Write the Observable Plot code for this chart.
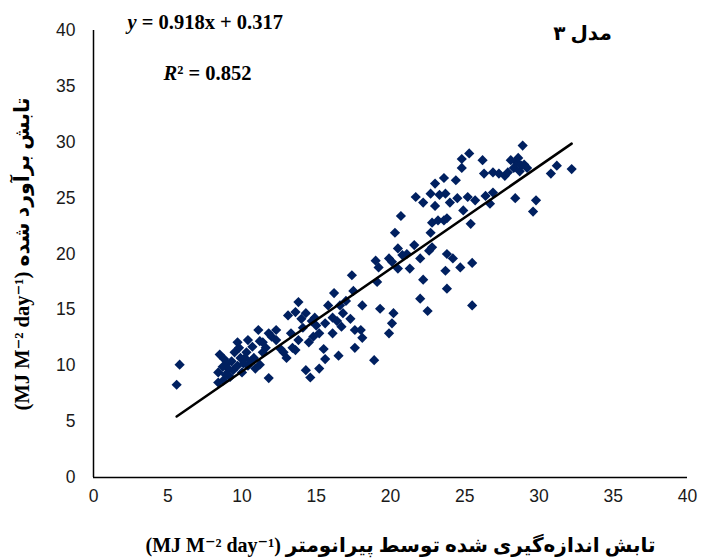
<!DOCTYPE html>
<html><head><meta charset="utf-8">
<script src="https://cdn.jsdelivr.net/npm/d3@7"></script>
<script src="https://cdn.jsdelivr.net/npm/@observablehq/plot@0.6"></script>
<style>body{margin:0;background:#fff}</style>
</head><body><div id="chart"></div>
<script>
// measured radiation (pyranometer), MJ m-2 day-1
const measured = [
  5.6, 5.8, 8.4, 8.4, 8.5, 8.75, 8.8, 9.0, 9.2, 9.4, 9.5, 9.7, 9.7, 9.9, 10.0, 10.2, 10.4, 10.4, 10.6, 10.8,
  10.9, 11.1, 11.2, 11.4, 11.4, 11.6, 11.8, 11.8, 11.2, 9.1, 8.7, 10.1, 9.3, 10.3, 9.8, 8.9, 10.7,
  12.3, 12.3, 12.6, 12.8, 13.0, 13.1, 13.4, 13.6, 13.6, 13.8, 13.8, 14.1, 14.3, 14.3, 14.5, 14.6, 14.7, 14.9,
  15.2, 15.2, 15.5, 15.6, 15.6, 15.8, 16.1, 16.1, 16.2, 16.5, 16.6, 16.8, 17.0, 17.3, 17.4, 17.5, 17.6, 17.6,
  18.0, 18.1, 18.1, 12.0, 14.0, 15.0, 16.4, 13.3, 14.8, 16.7,
  18.9, 19.0, 19.1, 19.2, 19.3, 19.9, 19.9, 20.1, 20.2, 20.3, 20.5, 20.5, 20.7, 20.8, 21.1, 21.3, 21.7, 22.0,
  22.0, 22.2, 22.2, 22.5, 22.6, 22.7, 22.7, 22.8, 22.8, 23.0, 23.0, 23.2, 21.6, 20.1,
  23.6, 23.6, 23.7, 23.7, 23.8, 23.8, 24.2, 24.4, 24.5, 24.7, 24.8, 24.8, 24.9, 25.2, 25.3, 25.4, 25.5, 25.5,
  25.7, 26.2, 26.3, 26.4, 26.7, 26.9, 26.9, 27.3, 27.7, 27.9, 28.3, 28.4, 28.5, 28.7, 28.8, 28.9, 29.0, 29.2,
  29.6, 29.8, 30.8, 31.2, 32.2, 24.0, 23.3, 28.1, 28.6, 23.8
];
// estimated radiation (model 3), MJ m-2 day-1
const estimated = [
  8.3, 10.1, 8.5, 9.4, 11.0, 8.7, 10.6, 10.2, 9.0, 9.6, 11.2, 10.0, 12.1, 10.7, 9.4, 10.7, 10.0, 12.3, 10.4, 10.7,
  9.75, 13.2, 10.1, 12.1, 11.2, 11.6, 8.9, 12.9, 12.2, 9.7, 9.9, 10.2, 10.4, 11.2, 11.6, 9.2, 11.7,
  13.2, 12.3, 11.5, 11.2, 10.7, 14.5, 11.6, 14.8, 11.4, 15.7, 12.3, 13.4, 14.7, 9.6, 12.1, 8.95, 14.0, 14.3,
  12.9, 9.75, 11.5, 10.6, 13.8, 15.4, 14.3, 12.9, 16.5, 10.9, 15.4, 14.7, 15.8, 14.2, 18.1, 16.7, 13.2, 11.6,
  13.2, 15.4, 12.5, 12.6, 14.2, 13.6, 14.0, 12.9, 12.6, 13.5,
  10.5, 19.4, 17.5, 18.8, 15.1, 19.6, 12.9, 13.8, 14.7, 21.9, 20.5, 18.7, 23.4, 19.9, 20.0, 18.7, 25.1, 19.6,
  16.0, 24.6, 17.7, 14.9, 20.3, 21.9, 25.4, 22.8, 20.6, 24.3, 26.3, 23.0, 20.8, 19.3,
  26.8, 23.0, 25.4, 18.5, 16.9, 20.0, 19.6, 26.6, 25.0, 18.8, 28.5, 27.7, 23.9, 25.1, 29.0, 22.7, 19.2, 15.4,
  24.8, 28.4, 27.2, 25.2, 24.5, 25.5, 27.3, 27.2, 27.0, 27.3, 27.7, 25.0, 28.2, 27.4, 27.9, 29.7, 28.0, 27.7,
  23.8, 24.8, 27.2, 27.9, 27.6, 24.6, 25.3, 28.4, 28.6, 23.2
];
const slope = 0.918;
const intercept = 0.317;
const rSquared = 0.852;
const xTicks = [0, 5, 10, 15, 20, 25, 30, 35, 40];
const yTicks = [0, 5, 10, 15, 20, 25, 30, 35, 40];
const modelTitle = "مدل ۳";
const unitText = "(MJ M⁻² day⁻¹)";
const xTitle = unitText + " تابش اندازه‌گیری شده توسط پیرانومتر";
const yTitle = unitText + " تابش برآورد شده";
const eqText = `y = ${slope}x + ${intercept}`;
const r2Text = `R² = ${rSquared}`;

const points = measured.map((x, i) => ({x, y: estimated[i]}));
const [xMin, xMax] = d3.extent(measured);
const fit = [xMin, xMax].map(x => ({x, y: slope * x + intercept}));

const serif = "Liberation Serif, 'Times New Roman', 'DejaVu Sans', serif";

const chart = Plot.plot({
  width: 703, height: 558,
  marginLeft: 93, marginRight: 16, marginTop: 30, marginBottom: 81,
  style: {fontFamily: "Liberation Sans, Arial, sans-serif", background: "#fff", color: "#1a1a1a"},
  x: {domain: [0, 40]},
  y: {domain: [0, 40]},
  marks: [
    Plot.axisX({ticks: xTicks, tickSize: 0, tickPadding: 12, fontSize: 17.5, label: null}),
    Plot.axisY({ticks: yTicks, tickSize: 0, tickPadding: 18, fontSize: 17.5, label: null}),
    Plot.ruleX([0], {stroke: "#000", strokeWidth: 1.5}),
    Plot.ruleY([0], {stroke: "#000", strokeWidth: 1.5}),
    Plot.dot(points, {x: "x", y: "y", symbol: "diamond2", r: 4.6, fill: "#002060", stroke: null}),
    Plot.line(fit, {x: "x", y: "y", stroke: "#000", strokeWidth: 2.5}),
    Plot.text([eqText], {frameAnchor: "top-left", dx: 34, dy: -8, textAnchor: "start", lineAnchor: "middle",
      fontFamily: serif, fontWeight: "bold", fontSize: 20.5, fill: "#000"}),
    Plot.text([r2Text], {frameAnchor: "top-left", dx: 70, dy: 43, textAnchor: "start", lineAnchor: "middle",
      fontFamily: serif, fontWeight: "bold", fontSize: 20.5, fill: "#000"}),
    Plot.text([modelTitle], {frameAnchor: "top-right", dx: -105, dy: 3, textAnchor: "middle", lineAnchor: "middle",
      fontFamily: serif, fontWeight: "bold", fontSize: 20, fill: "#000"}),
    Plot.text([xTitle], {frameAnchor: "bottom", dx: 10, dy: 68, textAnchor: "middle", lineAnchor: "middle",
      fontFamily: serif, fontWeight: "bold", fontSize: 20, fill: "#000"}),
    Plot.text([yTitle], {frameAnchor: "left", dx: -71, dy: 0, rotate: -90, textAnchor: "middle", lineAnchor: "middle",
      fontFamily: serif, fontWeight: "bold", fontSize: 20.5, fill: "#000"})
  ]
});

d3.select(chart).selectAll("text").each(function () {
  const t = this.textContent;
  if (t === eqText) {
    this.textContent = "";
    d3.select(this).append("tspan").attr("font-style", "italic").text("y");
    d3.select(this).append("tspan").text(eqText.slice(1));
  } else if (t === r2Text) {
    this.textContent = "";
    d3.select(this).append("tspan").attr("font-style", "italic").text("R");
    d3.select(this).append("tspan").text(r2Text.slice(1));
  }
});

document.getElementById("chart").appendChild(chart);
</script>
</body></html>
